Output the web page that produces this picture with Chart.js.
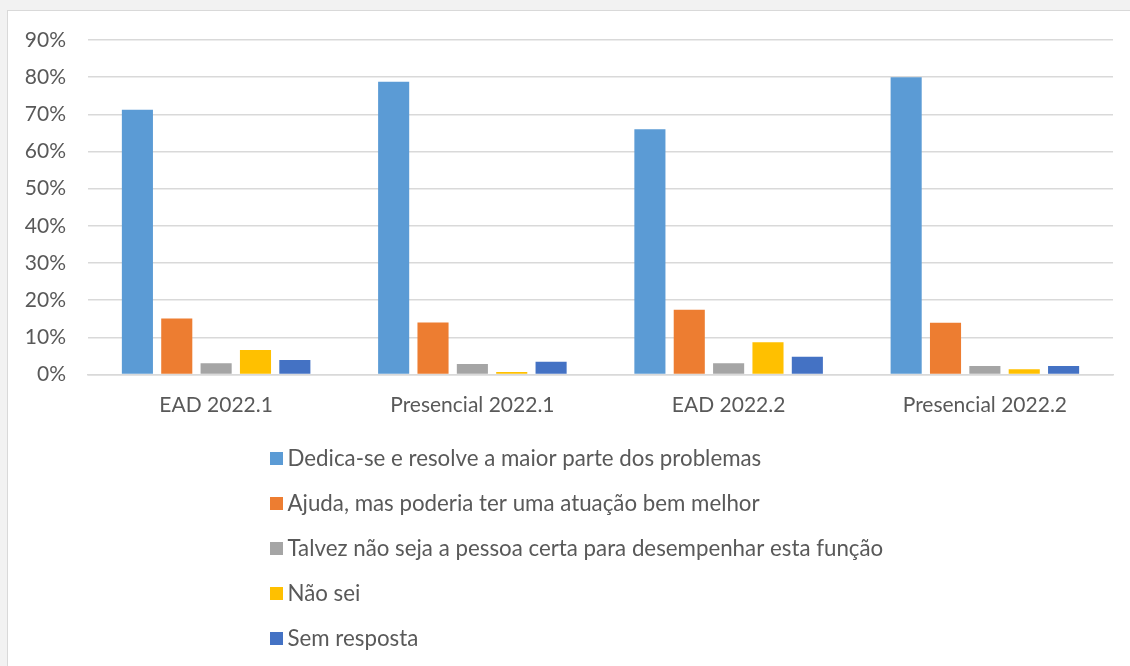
<!DOCTYPE html>
<html>
<head>
<meta charset="utf-8">
<script src="https://cdn.jsdelivr.net/npm/chart.js@4/dist/chart.umd.min.js"></script>
<style>
  html, body { margin: 0; padding: 0; background: #f2f2f2; width: 1130px; height: 666px; overflow: hidden; }
  #panel { position: absolute; left: 7px; top: 10px; width: 1123px; height: 656px; background: #ffffff; border-left: 1px solid #d9d9d9; border-top: 1px solid #d9d9d9; }
  #wrap { position: absolute; left: 0; top: 0; width: 1123px; height: 656px; }
</style>
</head>
<body>
<div id="panel"><div id="wrap"><canvas id="c"></canvas></div></div>
<script>
const categories = ["EAD 2022.1", "Presencial 2022.1", "EAD 2022.2", "Presencial 2022.2"];
const seriesNames = [
  "Dedica-se e resolve a maior parte dos problemas",
  "Ajuda, mas poderia ter uma atuação bem melhor",
  "Talvez não seja a pessoa certa para desempenhar esta função",
  "Não sei",
  "Sem resposta"
];
const dedica = [71.2, 78.8, 66.0, 80.0];
const ajuda = [15.1, 14.0, 17.4, 13.9];
const talvez = [3.0, 2.8, 3.0, 2.3];
const naoSei = [6.6, 0.7, 8.7, 1.4];
const semResposta = [3.9, 3.4, 4.8, 2.3];
const yTicks = [0, 10, 20, 30, 40, 50, 60, 70, 80, 90];
const colors = ["#5B9BD5", "#ED7D31", "#A5A5A5", "#FFC000", "#4472C4"];

const seriesValues = [dedica, ajuda, talvez, naoSei, semResposta];
const FONT = "Lato";

const legendPlugin = {
  id: "vlegend",
  afterDraw(chart) {
    const ctx = chart.ctx;
    ctx.save();
    ctx.font = "22.3px " + FONT;
    ctx.textBaseline = "middle";
    ctx.textAlign = "left";
    chart.data.datasets.forEach((ds, i) => {
      const y = 448 + i * 45;
      ctx.fillStyle = ds.backgroundColor;
      ctx.fillRect(262, y - 7, 13, 13);
      ctx.fillStyle = "#595959";
      ctx.fillText(ds.label, 279.5, y);
    });
    ctx.restore();
  }
};

new Chart(document.getElementById("c"), {
  type: "bar",
  data: {
    labels: categories,
    datasets: seriesNames.map((n, i) => ({
      label: n,
      data: seriesValues[i],
      backgroundColor: colors[i],
      categoryPercentage: 0.768,
      barPercentage: 0.79
    }))
  },
  options: {
    responsive: true,
    maintainAspectRatio: false,
    animation: false,
    layout: { padding: { left: 0, right: 18, top: 29, bottom: 222.5 } },
    plugins: { legend: { display: false }, tooltip: { enabled: false } },
    scales: {
      x: {
        grid: { display: false, drawTicks: false },
        border: { display: true, color: "#d9d9d9", width: 1.5 },
        ticks: { color: "#595959", font: { family: FONT, size: 21 }, padding: 18 },
        afterFit: s => { s.height = 70; s.paddingLeft = 0; s.paddingRight = 0; }
      },
      y: {
        min: 0, max: 90,
        afterBuildTicks: s => { s.ticks = yTicks.map(v => ({ value: v })); },
        grid: { color: "#d9d9d9", lineWidth: 1.5, drawTicks: false },
        border: { display: false },
        ticks: { color: "#595959", font: { family: FONT, size: 21 }, padding: 22, callback: v => v + "%" },
        afterFit: s => { s.width = 80; s.paddingTop = 0; s.paddingBottom = 0; }
      }
    }
  },
  plugins: [legendPlugin]
});
</script>
</body>
</html>
